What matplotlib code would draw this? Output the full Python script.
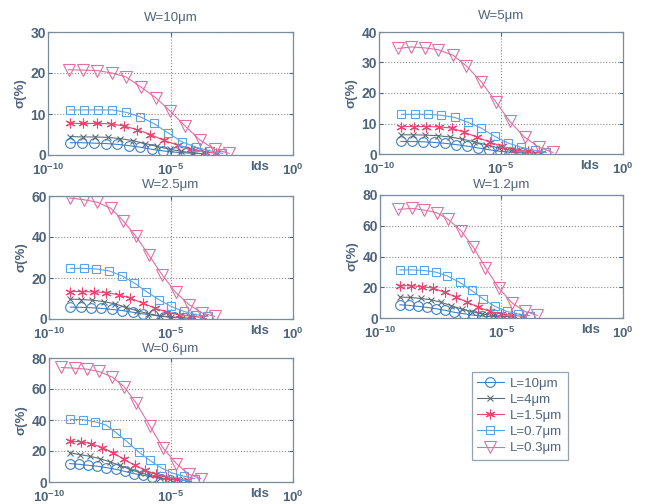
import numpy as np
import matplotlib
matplotlib.use('Agg')
import matplotlib.pyplot as plt

plt.rcParams['font.family'] = ['Liberation Sans', 'DejaVu Sans']
plt.rcParams['mathtext.fontset'] = 'custom'
plt.rcParams['mathtext.rm'] = 'Liberation Sans'
plt.rcParams['mathtext.bf'] = 'Liberation Sans:bold'

# series labels
labels = ['L=10\u03bcm', 'L=4\u03bcm', 'L=1.5\u03bcm', 'L=0.7\u03bcm', 'L=0.3\u03bcm']
titles = ['W=10\u03bcm', 'W=5\u03bcm', 'W=2.5\u03bcm', 'W=1.2\u03bcm', 'W=0.6\u03bcm']
yticks_all = [[0, 10, 20, 30], [0, 10, 20, 30, 40], [0, 20, 40, 60],
              [0, 20, 40, 60, 80], [0, 20, 40, 60, 80]]

# log10(Ids) per panel, per series (L=10, 4, 1.5, 0.7, 0.3)
x_w10 = [
    [-9.09, -8.60, -8.12, -7.65, -7.18, -6.71, -6.24, -5.77, -5.30, -4.83, -4.36, -3.89],
    [-9.09, -8.57, -8.07, -7.55, -7.05, -6.53, -6.03, -5.55, -5.03, -4.56, -4.08, -3.61],
    [-9.09, -8.59, -8.01, -7.44, -6.91, -6.38, -5.82, -5.28, -4.71, -4.15, -3.61, -3.13],
    [-9.12, -8.54, -7.96, -7.39, -6.80, -6.23, -5.69, -5.10, -4.53, -3.95, -3.40, -2.88],
    [-9.16, -8.57, -7.99, -7.39, -6.80, -6.19, -5.61, -5.01, -4.41, -3.81, -3.20, -2.61],
]
y_w10 = [
    [3.0, 3.0, 2.9, 2.8, 2.6, 2.3, 1.9, 1.4, 1.0, 0.7, 0.5, 0.4],
    [4.5, 4.4, 4.4, 4.3, 4.0, 3.5, 2.8, 2.1, 1.4, 0.9, 0.5, 0.3],
    [7.7, 7.7, 7.7, 7.6, 7.1, 6.2, 5.0, 3.6, 2.4, 1.5, 0.8, 0.4],
    [11.0, 11.0, 11.0, 11.0, 10.4, 9.3, 7.7, 5.4, 3.2, 1.9, 1.0, 0.4],
    [20.8, 20.7, 20.6, 20.0, 19.0, 16.5, 14.0, 10.7, 7.1, 3.7, 1.4, 0.4],
]

x_w5 = [
    [-9.10, -8.65, -8.20, -7.75, -7.30, -6.85, -6.40, -5.95, -5.50, -5.05, -4.60, -4.15],
    [-9.10, -8.60, -8.10, -7.60, -7.10, -6.60, -6.10, -5.60, -5.10, -4.60, -4.10, -3.60],
    [-9.10, -8.58, -8.06, -7.54, -7.02, -6.50, -5.98, -5.46, -4.94, -4.42, -3.90, -3.38],
    [-9.08, -8.54, -7.99, -7.45, -6.90, -6.35, -5.81, -5.26, -4.71, -4.17, -3.62, -3.14],
    [-9.22, -8.67, -8.13, -7.58, -6.97, -6.42, -5.81, -5.22, -4.64, -4.03, -3.44, -2.87],
]
y_w5 = [
    [4.1, 4.1, 4.0, 3.8, 3.5, 3.1, 2.6, 2.0, 1.4, 0.9, 0.6, 0.4],
    [6.3, 6.3, 6.2, 6.0, 5.6, 4.9, 4.0, 3.0, 2.0, 1.2, 0.7, 0.3],
    [9.0, 9.0, 9.0, 8.9, 8.5, 7.1, 5.5, 3.9, 2.5, 1.4, 0.9, 0.3],
    [13.0, 13.0, 13.0, 12.7, 12.0, 10.4, 8.5, 5.8, 3.6, 2.2, 1.2, 0.5],
    [34.6, 35.1, 34.8, 34.2, 32.4, 28.9, 23.7, 17.2, 10.7, 5.5, 2.2, 0.5],
]

x_w25 = [
    [-9.13, -8.70, -8.28, -7.85, -7.43, -7.00, -6.57, -6.15, -5.72, -5.30, -4.87, -4.44],
    [-9.13, -8.67, -8.22, -7.76, -7.30, -6.85, -6.39, -5.93, -5.47, -5.02, -4.56, -4.10],
    [-9.13, -8.64, -8.14, -7.65, -7.15, -6.66, -6.16, -5.67, -5.17, -4.68, -4.18, -3.69],
    [-9.13, -8.58, -8.06, -7.54, -7.02, -6.52, -6.01, -5.49, -4.99, -4.47, -3.96, -3.48],
    [-9.15, -8.58, -8.03, -7.47, -6.97, -6.45, -5.90, -5.36, -4.81, -4.26, -3.72, -3.21],
]
y_w25 = [
    [5.8, 5.7, 5.5, 5.2, 4.7, 4.1, 3.3, 2.5, 1.8, 1.2, 0.8, 0.5],
    [9.7, 9.5, 9.2, 8.5, 7.4, 5.8, 4.0, 2.6, 1.6, 1.0, 0.6, 0.3],
    [13.4, 13.4, 13.2, 12.9, 11.8, 10.2, 7.7, 5.3, 3.4, 2.1, 1.3, 0.8],
    [24.7, 24.7, 24.4, 23.5, 21.1, 17.7, 13.4, 9.4, 6.1, 3.7, 2.1, 1.3],
    [59.0, 58.2, 57.0, 54.0, 48.0, 40.6, 31.0, 21.5, 13.0, 7.0, 2.9, 1.3],
]

x_w12 = [
    [-9.18, -8.81, -8.43, -8.06, -7.68, -7.31, -6.94, -6.56, -6.19, -5.82, -5.44, -5.07],
    [-9.18, -8.76, -8.33, -7.91, -7.48, -7.06, -6.64, -6.21, -5.79, -5.37, -4.94, -4.52],
    [-9.18, -8.72, -8.26, -7.80, -7.34, -6.87, -6.41, -5.95, -5.49, -5.03, -4.57, -4.11],
    [-9.18, -8.70, -8.19, -7.70, -7.23, -6.71, -6.23, -5.75, -5.27, -4.79, -4.32, -3.84],
    [-9.25, -8.70, -8.18, -7.67, -7.19, -6.67, -6.16, -5.66, -5.10, -4.56, -4.04, -3.53],
]
y_w12 = [
    [8.6, 8.2, 7.6, 6.9, 6.0, 5.0, 3.7, 2.8, 1.9, 1.3, 0.9, 0.6],
    [13.6, 13.4, 12.7, 11.9, 10.2, 8.0, 5.8, 4.1, 2.6, 1.7, 1.1, 0.6],
    [21.0, 21.0, 20.3, 19.4, 16.6, 13.6, 10.2, 7.1, 4.3, 2.8, 1.7, 1.1],
    [31.3, 31.3, 30.9, 29.8, 27.4, 23.1, 17.9, 12.3, 7.6, 4.3, 2.6, 1.5],
    [70.6, 71.3, 70.2, 68.5, 64.1, 56.8, 46.0, 32.8, 19.2, 9.7, 4.3, 1.7],
]

x_w06 = [
    [-9.15, -8.77, -8.40, -8.02, -7.65, -7.27, -6.90, -6.52, -6.15, -5.77, -5.40, -5.05],
    [-9.15, -8.74, -8.33, -7.92, -7.51, -7.10, -6.69, -6.28, -5.87, -5.46, -5.05, -4.64],
    [-9.15, -8.70, -8.27, -7.83, -7.38, -6.94, -6.49, -6.05, -5.63, -5.19, -4.75, -4.30],
    [-9.13, -8.61, -8.13, -7.65, -7.24, -6.79, -6.33, -5.87, -5.40, -4.95, -4.47, -4.03],
    [-9.49, -8.95, -8.44, -7.95, -7.40, -6.93, -6.42, -5.87, -5.33, -4.78, -4.28, -3.78],
]
y_w06 = [
    [11.9, 11.4, 10.8, 10.2, 9.3, 8.2, 6.9, 5.4, 4.3, 3.2, 2.2, 1.5],
    [18.8, 17.7, 16.6, 15.1, 13.0, 10.8, 8.2, 6.0, 4.3, 2.8, 1.7, 1.1],
    [26.3, 25.9, 24.8, 22.2, 19.0, 14.7, 10.8, 7.6, 5.0, 3.2, 1.7, 1.1],
    [40.4, 40.2, 38.9, 36.7, 31.7, 25.9, 19.4, 14.0, 9.1, 5.8, 3.7, 2.2],
    [73.9, 73.4, 72.8, 71.3, 67.6, 61.6, 50.8, 36.3, 22.0, 11.9, 5.0, 2.2],
]

xs = [x_w10, x_w5, x_w25, x_w12, x_w06]
ys = [y_w10, y_w5, y_w25, y_w12, y_w06]

colors = ['#3f7fc4', '#5c6e7a', '#ec4470', '#5da2e4', '#e06fa2']
markers = ['o', 'x', (6, 2, 0), 's', 'v']
msizes = [7, 5, 7, 6, 8]
txtc = '#4e647c'

# axes boxes in pixels: left, top, right, bottom
boxes = [(48, 32, 293, 155), (379, 32, 623, 154), (49, 196, 293, 319),
         (380, 195, 623, 318), (49, 358, 293, 482)]
title_pads = [8, 9, 6, 5, 4]

W, H = 657, 504
fig = plt.figure(figsize=(W / 100, H / 100), dpi=100)

handles = []
for k in range(5):
    l, t, r, b = boxes[k]
    ax = fig.add_axes([l / W, 1 - b / H, (r - l) / W, (b - t) / H])
    for i in range(5):
        x = 10.0 ** np.array(xs[k][i])
        h, = ax.plot(x, ys[k][i], color=colors[i], lw=0.8, marker=markers[i],
                     ms=msizes[i], mfc='none', mec=colors[i], mew=0.8,
                     label=labels[i])
        if k == 0:
            handles.append(h)
    ax.set_xscale('log')
    ax.set_xlim(1e-10, 1)
    ax.set_ylim(0, yticks_all[k][-1])
    ax.set_xticks([1e-10, 1e-5, 1])
    ax.set_xticklabels([r'$\mathbf{10^{-10}}$', r'$\mathbf{10^{-5}}$', r'$\mathbf{10^{0}}$'])
    ax.xaxis.set_minor_locator(matplotlib.ticker.NullLocator())
    ax.set_yticks(yticks_all[k])
    ax.grid(True, ls=':', color='#8a8a8a', lw=0.8)
    ax.tick_params(direction='in', top=True, right=True, colors=txtc,
                   labelsize=10, length=3, width=0.8)
    ax.tick_params(axis='x', pad=5.5, labelsize=9.5)
    ax.tick_params(axis='y', pad=1.5)
    for lab in ax.get_yticklabels():
        lab.set_fontweight('bold')
    for s in ax.spines.values():
        s.set_color('#7a8ca0')
        s.set_linewidth(0.9)
    ax.set_title(titles[k], fontsize=9.5, color=txtc, pad=title_pads[k])
    ax.set_ylabel('\u03c3(%)', fontsize=9.5, color=txtc, fontweight='bold', labelpad=3)
    ax.set_xlabel('Ids', fontsize=9.5, color=txtc, fontweight='bold')
    ax.xaxis.set_label_coords(0.865, -0.05)
    ax.xaxis.label.set_verticalalignment('top')

leg = fig.legend(handles=handles, loc='upper left',
                 bbox_to_anchor=(472 / W, 1 - 372 / H), fontsize=9.5,
                 frameon=True, fancybox=False, handlelength=2.0,
                 labelspacing=0.3, borderpad=0.4, handletextpad=0.5,
                 borderaxespad=0)
leg.get_frame().set_edgecolor('#7a8ca0')
leg.get_frame().set_linewidth(0.9)
for t in leg.get_texts():
    t.set_color(txtc)

fig.savefig('out.png', dpi=100)
